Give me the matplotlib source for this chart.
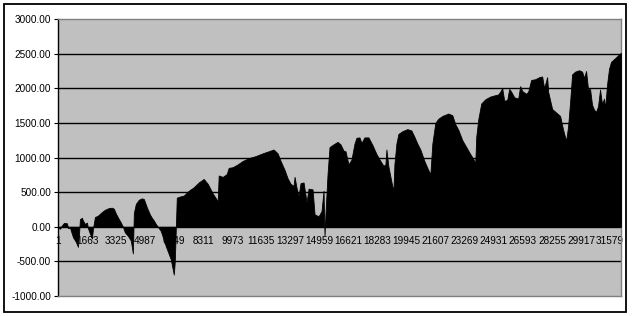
import matplotlib
matplotlib.use("Agg")
import matplotlib.pyplot as plt
from matplotlib.patches import Rectangle

# sample index / cumulative value
idx = [1, 114, 228, 343, 514, 571, 685, 742, 857, 1028, 1142, 1199, 1256, 1370,
       1428, 1542, 1656, 1713, 1827, 1941, 1999, 2113, 2284, 2455, 2683, 2912,
       3083, 3198, 3312, 3483, 3597, 3712, 3826, 3997, 4168, 4283, 4340, 4454,
       4625, 4796, 4911, 5082, 5253, 5367, 5482, 5596, 5710, 5881, 6167, 6452,
       6624, 6681, 6795, 7023, 7195, 7480, 7766, 8051, 8337, 8565, 8851, 9136,
       9193, 9422, 9650, 9764, 9993, 10278, 10564, 10906, 11306, 11706, 12048,
       12334, 12562, 12733, 12962, 13133, 13304, 13476, 13533, 13647, 13761,
       13875, 14047, 14161, 14218, 14332, 14561, 14675, 14903, 15074, 15189,
       15246, 15303, 15417, 15531, 15760, 15988, 16159, 16331, 16445, 16616,
       16787, 16959, 17073, 17244, 17358, 17530, 17758, 17987, 18215, 18443,
       18615, 18729, 18786, 18900, 19071, 19186, 19243, 19357, 19471, 19700,
       19985, 20213, 20385, 20556, 20727, 20956, 21127, 21298, 21413, 21584,
       21755, 21984, 22326, 22555, 22726, 22897, 23126, 23354, 23582, 23754,
       23868, 23925, 24039, 24210, 24439, 24724, 25010, 25181, 25295, 25410,
       25524, 25695, 25809, 25923, 26095, 26323, 26437, 26552, 26780, 26894,
       27065, 27294, 27522, 27694, 27808, 27979, 28036, 28265, 28493, 28721,
       28893, 29064, 29178, 29292, 29407, 29578, 29806, 29978, 30092, 30206,
       30320, 30434, 30549, 30663, 30777, 30891, 31005, 31120, 31234, 31291,
       31405, 31519, 31633, 31805, 31976, 32147, 32204]
vals = [0, -30, 20, 55, 50, -20, -10, -60, -150, -220, -290, -120, 110, 130,
        90, 40, 60, -20, -100, -170, -30, 140, 160, 200, 245, 270,
        275, 260, 190, 110, 60, 0, -80, -130, -200, -385, 200, 330,
        390, 410, 400, 280, 180, 130, 90, 40, 0, -60, -280, -470,
        -690, -500, 420, 440, 450, 520, 570, 640, 690, 620, 480, 370,
        740, 720, 760, 850, 860, 900, 950, 990, 1020, 1060, 1090,
        1115, 1060, 950, 820, 700, 620, 590, 720, 560, 440,
        630, 640, 450, 350, 550, 540, 180, 150, 225,
        520, -130, 200, 755, 1150, 1190, 1225, 1190, 1100, 1090, 900,
        970, 1200, 1285, 1290, 1210, 1290, 1290, 1180, 1050, 950,
        880, 900, 1115, 870, 650, 515, 900, 1200, 1340, 1380,
        1410, 1390, 1300, 1200, 1115, 950, 850, 755, 1200, 1500,
        1560, 1600, 1635, 1610, 1480, 1400, 1250, 1150, 1050, 980,
        920, 1300, 1550, 1780, 1840, 1880, 1900, 1910, 1950, 2000,
        1820, 1830, 1990, 1950, 1870, 1850, 2030, 1960, 1920, 1950,
        2120, 2130, 2160, 2170, 2000, 2160, 1950, 1700, 1650, 1600,
        1400, 1240, 1450, 1800, 2200, 2240, 2260, 2240, 2150, 2250,
        1980, 1990, 1760, 1690, 1660, 1740, 1980, 1770, 1850, 1700,
        2050, 2280, 2380, 2420, 2460, 2500, 2510]

xlabels = ["1", "1663", "3325", "4987", "6649", "8311", "9973", "11635",
           "13297", "14959", "16621", "18283", "19945", "21607", "23269",
           "24931", "26593", "28255", "29917", "31579"]
yticks = [-1000, -500, 0, 500, 1000, 1500, 2000, 2500, 3000]

FONT = "Liberation Sans"
fig = plt.figure(figsize=(6.32, 3.16), dpi=100)
fig.patch.set_facecolor("white")
fig.patches.append(Rectangle((4 / 632, 1 - 312 / 316), 622 / 632, 308 / 316,
                             transform=fig.transFigure, fill=False,
                             edgecolor="black", linewidth=1.3))

ax = fig.add_axes([58 / 632, 1 - 296 / 316, 563 / 632, 277 / 316])
ax.set_facecolor("#c0c0c0")
ax.set_xlim(1, idx[-1])
ax.set_ylim(-1000, 3000)

for v in yticks[1:-1]:
    ax.axhline(v, color="black", linewidth=1, zorder=1)

ax.fill_between(idx, vals, 0, color="black", linewidth=0.6,
                edgecolor="black", zorder=3)

# category labels sit just under the zero line, behind the area
for i, lab in enumerate(xlabels):
    ax.annotate(lab, (1 + i * 1662, 0), xytext=(0, -10),
                textcoords="offset points", ha="center", va="center",
                fontsize=7.2, family=FONT, zorder=2, annotation_clip=False)

ax.set_xticks([])
ax.set_yticks(yticks)
ax.set_yticklabels([f"{v:.2f}" for v in yticks], fontsize=7.2, family=FONT)
ax.tick_params(axis="y", length=3, width=0.8, pad=2, color="black")

for s in ("top", "right", "bottom"):
    ax.spines[s].set_color("#808080")
    ax.spines[s].set_linewidth(1)
ax.spines["left"].set_color("black")
ax.spines["left"].set_linewidth(1)

fig.savefig("out.png", facecolor="white")
